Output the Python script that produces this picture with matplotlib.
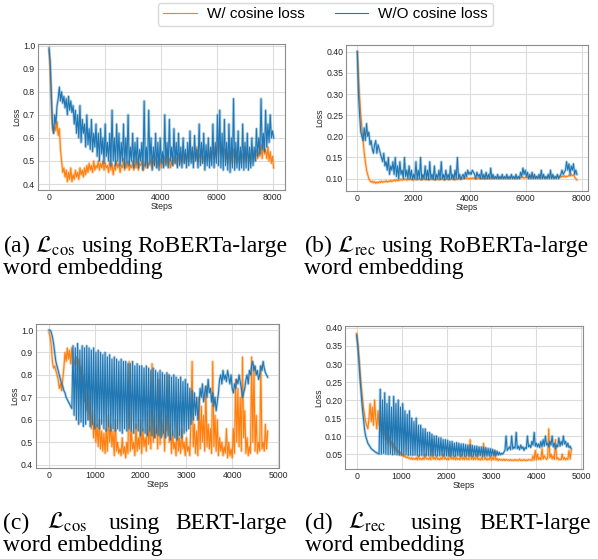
import matplotlib
matplotlib.use("Agg")
import matplotlib.pyplot as plt
import numpy as np

plt.rcParams['font.family'] = ['Liberation Sans', 'DejaVu Sans']
plt.rcParams['mathtext.fontset'] = 'stix'

ORANGE = '#ff7f0e'
BLUE = '#1f77b4'

# ---------------- data ----------------
# (a) L_cos, RoBERTa-large, one sample every 41 steps
a_step = 41
a_with = [0.98, 0.90, 0.76, 0.64,
          0.62, 0.66, 0.63, 0.67, 0.61, 0.64,
          0.55, 0.50, 0.45, 0.47,
          0.43, 0.46, 0.41, 0.45, 0.42, 0.47, 0.41, 0.44, 0.42, 0.46, 0.43, 0.45, 0.42, 0.47, 0.44, 0.46, 0.43,
          0.47, 0.44, 0.48, 0.45, 0.49, 0.46, 0.48, 0.45, 0.50, 0.46, 0.48, 0.47, 0.50, 0.46, 0.49, 0.47, 0.50,
          0.46, 0.49, 0.47,
          0.48, 0.45, 0.50, 0.46, 0.49, 0.44, 0.48, 0.46, 0.50, 0.47, 0.49, 0.45, 0.48, 0.47, 0.51, 0.46, 0.49,
          0.47, 0.50, 0.46, 0.48, 0.47, 0.50, 0.46, 0.49, 0.47, 0.51, 0.46, 0.49, 0.48, 0.50, 0.46, 0.49, 0.47,
          0.51, 0.47, 0.49, 0.48, 0.51, 0.47, 0.50, 0.48, 0.52, 0.47, 0.50, 0.48, 0.51, 0.47, 0.50, 0.48,
          0.52, 0.49, 0.53, 0.48, 0.51, 0.47, 0.50, 0.48, 0.52, 0.49, 0.51, 0.48, 0.53, 0.49, 0.52, 0.50, 0.54,
          0.49, 0.52, 0.50,
          0.53, 0.50, 0.55, 0.51, 0.53, 0.49, 0.54, 0.51, 0.56, 0.50, 0.53, 0.51, 0.55, 0.49, 0.52, 0.50, 0.54,
          0.51, 0.53, 0.50, 0.55, 0.52, 0.56, 0.51, 0.54, 0.52, 0.57, 0.53, 0.58, 0.54,
          0.56, 0.52, 0.55, 0.50, 0.53, 0.49, 0.54, 0.51, 0.52, 0.49, 0.55, 0.50, 0.53, 0.49, 0.52, 0.50, 0.54,
          0.49, 0.53, 0.51, 0.56, 0.50, 0.54, 0.51, 0.53, 0.49, 0.55, 0.51, 0.54, 0.50,
          0.55, 0.51, 0.54, 0.52, 0.57, 0.51, 0.58, 0.53, 0.55, 0.51, 0.56, 0.50, 0.54, 0.49, 0.52, 0.47]
a_without = [0.99, 0.93, 0.80, 0.66,
             0.62, 0.70, 0.66, 0.74,
             0.77, 0.82, 0.76, 0.80, 0.75, 0.78, 0.73, 0.77, 0.70, 0.78, 0.72, 0.76, 0.71,
             0.74, 0.66, 0.72, 0.62, 0.70, 0.60, 0.74, 0.58, 0.68, 0.62, 0.66, 0.56, 0.70, 0.57, 0.64, 0.55,
             0.68, 0.54, 0.62, 0.56,
             0.66, 0.52, 0.62, 0.50, 0.64, 0.53, 0.60, 0.49, 0.66, 0.52, 0.58, 0.50, 0.62, 0.48, 0.72, 0.50,
             0.60, 0.48, 0.66, 0.50,
             0.62, 0.48, 0.58, 0.50, 0.66, 0.47, 0.60, 0.49, 0.70, 0.48, 0.56, 0.50, 0.62, 0.47, 0.58, 0.49,
             0.60, 0.47, 0.55, 0.50, 0.58, 0.46, 0.76, 0.48, 0.56, 0.47, 0.72, 0.49, 0.60, 0.46, 0.56, 0.48,
             0.62, 0.47, 0.58, 0.46, 0.60, 0.49, 0.54, 0.47,
             0.70, 0.48, 0.58, 0.47, 0.68, 0.50, 0.56, 0.48, 0.64, 0.49, 0.58, 0.47, 0.62, 0.48, 0.56, 0.47,
             0.60, 0.49, 0.55, 0.47, 0.58, 0.48, 0.63, 0.49, 0.56, 0.47, 0.61, 0.50, 0.55, 0.47, 0.66, 0.48,
             0.58, 0.49, 0.62, 0.46, 0.57, 0.48, 0.60, 0.47,
             0.56, 0.48, 0.66, 0.47, 0.58, 0.49, 0.70, 0.48, 0.72, 0.47, 0.62, 0.46, 0.68, 0.48, 0.58, 0.46,
             0.66, 0.45, 0.60, 0.47, 0.77, 0.46, 0.58, 0.47, 0.63, 0.46, 0.56, 0.47, 0.66, 0.46, 0.58, 0.47,
             0.62, 0.46, 0.56, 0.47, 0.60, 0.48, 0.56, 0.50,
             0.64, 0.52, 0.60, 0.53, 0.77, 0.55, 0.62, 0.54, 0.72, 0.56, 0.66, 0.58, 0.70, 0.60, 0.63, 0.60]

# (b) L_rec, RoBERTa-large, one sample every 41 steps
b_step = 41
b_with = [0.40, 0.34, 0.29, 0.25, 0.22, 0.19, 0.16, 0.14, 0.12, 0.11, 0.10, 0.095,
          0.092, 0.094, 0.090, 0.093, 0.089, 0.092, 0.090, 0.093, 0.091, 0.094, 0.091, 0.093, 0.092, 0.095,
          0.092, 0.094, 0.093, 0.096, 0.093,
          0.095, 0.097, 0.094, 0.098, 0.095, 0.097, 0.096, 0.099, 0.096, 0.098, 0.097, 0.100, 0.096, 0.099,
          0.097, 0.100, 0.097, 0.099, 0.096, 0.100, 0.097, 0.099, 0.098, 0.101, 0.097, 0.099, 0.098, 0.100,
          0.097, 0.099,
          0.098, 0.100, 0.097, 0.099, 0.098, 0.101, 0.097, 0.100, 0.098, 0.099, 0.097, 0.100, 0.098, 0.101,
          0.097, 0.099, 0.098, 0.100, 0.097, 0.100, 0.098, 0.101, 0.098, 0.100, 0.097, 0.099, 0.098, 0.101,
          0.099, 0.102, 0.099, 0.101, 0.100, 0.103, 0.100, 0.102, 0.099, 0.101, 0.100, 0.102,
          0.100, 0.102, 0.099, 0.101, 0.100, 0.103, 0.099, 0.101, 0.100, 0.102, 0.099, 0.101, 0.100, 0.102,
          0.100, 0.103, 0.101, 0.102, 0.100, 0.103, 0.101, 0.102, 0.100, 0.102, 0.101, 0.103, 0.100, 0.102,
          0.101, 0.103, 0.100, 0.102, 0.101, 0.104, 0.101, 0.103, 0.100, 0.102, 0.101, 0.103,
          0.101, 0.103, 0.102, 0.104, 0.101, 0.103, 0.102, 0.104, 0.101, 0.103, 0.102, 0.104, 0.101, 0.103,
          0.102, 0.105, 0.102, 0.104, 0.101, 0.103, 0.102, 0.104, 0.101, 0.103, 0.102, 0.105, 0.102, 0.104,
          0.102, 0.105, 0.102, 0.104, 0.103, 0.106, 0.103, 0.105, 0.103, 0.106, 0.104, 0.107,
          0.104, 0.106, 0.105, 0.108, 0.106, 0.110, 0.107, 0.109, 0.104, 0.100, 0.097]
b_without = [0.40, 0.30, 0.25, 0.21, 0.20, 0.19,
             0.22, 0.19, 0.23, 0.20, 0.21, 0.18, 0.19, 0.17, 0.16, 0.18, 0.19, 0.16, 0.18, 0.17, 0.16,
             0.15, 0.14, 0.16, 0.13, 0.14, 0.12, 0.15, 0.11, 0.13, 0.12, 0.14, 0.11, 0.15, 0.105, 0.13, 0.10,
             0.14, 0.11, 0.12, 0.10, 0.15, 0.105, 0.12, 0.10, 0.13,
             0.10, 0.12, 0.098, 0.11, 0.10, 0.14, 0.098, 0.12, 0.10, 0.15, 0.097, 0.11, 0.10, 0.13, 0.098,
             0.12, 0.097, 0.14, 0.10, 0.11, 0.098, 0.13, 0.097, 0.11, 0.10, 0.12, 0.098, 0.14, 0.10, 0.11,
             0.097, 0.12, 0.10, 0.11, 0.098, 0.13, 0.10, 0.11, 0.098, 0.12, 0.10, 0.15, 0.10, 0.11, 0.098,
             0.105, 0.11, 0.10, 0.115, 0.105, 0.12, 0.11, 0.115, 0.11, 0.12, 0.115, 0.11, 0.10, 0.115, 0.105,
             0.11, 0.10, 0.12, 0.10, 0.11, 0.10, 0.115, 0.10, 0.11, 0.10, 0.125, 0.10, 0.11, 0.10, 0.105,
             0.10, 0.11, 0.10, 0.105, 0.10, 0.11, 0.10, 0.105, 0.10, 0.11,
             0.10, 0.105, 0.10, 0.11, 0.10, 0.105, 0.10, 0.11, 0.10, 0.105, 0.10, 0.115, 0.105, 0.125, 0.11,
             0.12, 0.105, 0.115, 0.10, 0.11, 0.10, 0.115, 0.10, 0.11, 0.10, 0.105, 0.10, 0.11, 0.10, 0.12,
             0.10, 0.11, 0.10, 0.105, 0.10, 0.11, 0.10, 0.12, 0.10, 0.11,
             0.10, 0.105, 0.10, 0.11, 0.10, 0.105, 0.11, 0.12, 0.11, 0.115, 0.12, 0.14, 0.12, 0.135, 0.11,
             0.13, 0.12, 0.135, 0.11, 0.12, 0.11]

# (c) L_cos, BERT-large, one sample every 25 steps
c_step = 25
c_with = [0.99, 0.97, 0.93, 0.86, 0.83, 0.84, 0.82, 0.80,
          0.78, 0.74, 0.76, 0.73, 0.78, 0.83,
          0.90, 0.86, 0.92, 0.87, 0.91, 0.85, 0.92, 0.88, 0.86, 0.84, 0.88, 0.82, 0.87, 0.76, 0.84, 0.72, 0.80,
          0.68, 0.76, 0.64, 0.72, 0.60, 0.70, 0.56, 0.64, 0.52, 0.62, 0.50, 0.58, 0.48, 0.60, 0.47, 0.55,
          0.46, 0.54, 0.45, 0.56,
          0.46, 0.62, 0.50, 0.58, 0.48, 0.55, 0.44, 0.60, 0.46, 0.50, 0.45, 0.47, 0.44, 0.52, 0.45, 0.48,
          0.43, 0.50, 0.45, 0.86, 0.46, 0.55, 0.47, 0.50, 0.44, 0.58, 0.46, 0.52, 0.47, 0.60,
          0.45, 0.56, 0.48, 0.52, 0.46, 0.64, 0.49, 0.57, 0.47, 0.85, 0.50, 0.62, 0.52, 0.58, 0.47, 0.78,
          0.49, 0.64, 0.53, 0.60, 0.46, 0.62, 0.55, 0.80, 0.50, 0.58, 0.45, 0.55, 0.47, 0.50, 0.44, 0.62,
          0.46, 0.52, 0.45, 0.56, 0.47, 0.50, 0.44, 0.52,
          0.46, 0.48, 0.44, 0.60, 0.86, 0.48, 0.58, 0.45, 0.55, 0.44, 0.70, 0.47, 0.66, 0.50, 0.62, 0.46,
          0.75, 0.48, 0.58, 0.47, 0.56, 0.45, 0.86, 0.48, 0.62, 0.46, 0.60, 0.44, 0.52, 0.46, 0.50, 0.44,
          0.48, 0.45, 0.56, 0.43, 0.50, 0.44, 0.47, 0.43,
          0.56, 0.45, 0.78, 0.50, 0.74, 0.48, 0.70, 0.46, 0.88, 0.52, 0.64, 0.45, 0.52, 0.44, 0.48, 0.45,
          0.88, 0.50, 0.84, 0.46, 0.62, 0.45, 0.50, 0.46, 0.84, 0.47, 0.50, 0.46, 0.58, 0.47, 0.55]
c_without = [1.00, 1.00, 0.99, 0.97, 0.94, 0.90, 0.86, 0.84, 0.82, 0.80, 0.78, 0.76, 0.75, 0.73, 0.72,
             0.70, 0.69, 0.68, 0.67, 0.66, 0.65,
             0.93, 0.62, 0.92, 0.60, 0.94, 0.58, 0.91, 0.59, 0.93, 0.57, 0.92, 0.58, 0.93, 0.60, 0.92, 0.57,
             0.91, 0.58, 0.92, 0.56, 0.90, 0.57, 0.91, 0.56, 0.90, 0.58, 0.89, 0.56, 0.90, 0.55, 0.88, 0.57,
             0.89, 0.55, 0.87, 0.56, 0.88, 0.55, 0.87, 0.56, 0.86, 0.55, 0.87, 0.54, 0.86, 0.56, 0.86, 0.55,
             0.85, 0.56,
             0.85, 0.55, 0.86, 0.54, 0.84, 0.56, 0.85, 0.55, 0.84, 0.53, 0.84, 0.55, 0.83, 0.54, 0.84, 0.53,
             0.83, 0.55, 0.82, 0.53, 0.83, 0.52, 0.82, 0.54, 0.81, 0.53, 0.82, 0.52, 0.81, 0.54, 0.80, 0.52,
             0.81, 0.53, 0.80, 0.51, 0.79, 0.53, 0.80, 0.52, 0.79, 0.51, 0.78, 0.53, 0.79, 0.52, 0.77, 0.54,
             0.78, 0.55, 0.76, 0.56, 0.74, 0.58, 0.73, 0.60, 0.72, 0.62, 0.70, 0.60,
             0.66, 0.74, 0.70, 0.76, 0.68, 0.72, 0.75, 0.70, 0.78, 0.72, 0.74, 0.68, 0.72, 0.66, 0.70, 0.64,
             0.68, 0.72, 0.78, 0.80, 0.76, 0.82, 0.78, 0.80, 0.77, 0.82, 0.79, 0.76, 0.80, 0.74, 0.72, 0.76,
             0.74, 0.78, 0.76, 0.80, 0.77, 0.74, 0.70, 0.72, 0.74, 0.78, 0.80, 0.76, 0.82, 0.80, 0.84, 0.86,
             0.82, 0.84, 0.80, 0.82, 0.78, 0.80, 0.84, 0.82, 0.86, 0.83, 0.81, 0.80, 0.79]

# (d) L_rec, BERT-large, one sample every 25 steps
d_step = 25
d_with = [0.385, 0.36, 0.32, 0.28, 0.24, 0.21, 0.18, 0.16, 0.14, 0.13, 0.12,
          0.15, 0.19, 0.14, 0.18, 0.13, 0.20, 0.15, 0.12, 0.17, 0.13, 0.15, 0.11, 0.14, 0.10, 0.12, 0.09,
          0.11, 0.08, 0.10, 0.075,
          0.085, 0.065, 0.08, 0.06, 0.07, 0.055, 0.06, 0.05, 0.055, 0.045, 0.05, 0.042, 0.045, 0.04, 0.042,
          0.038, 0.04, 0.036, 0.04, 0.035,
          0.038, 0.035, 0.04, 0.034, 0.045, 0.035, 0.038, 0.034, 0.04, 0.035, 0.05, 0.036, 0.038, 0.035,
          0.04, 0.034, 0.09, 0.036, 0.04, 0.035, 0.045, 0.035, 0.038, 0.034, 0.04, 0.035, 0.05, 0.036, 0.04,
          0.035, 0.038, 0.034, 0.06, 0.036, 0.04, 0.035, 0.045, 0.034, 0.04, 0.035, 0.038, 0.034, 0.05,
          0.035, 0.04, 0.034, 0.045, 0.035, 0.038, 0.034,
          0.09, 0.035, 0.045, 0.034, 0.04, 0.035, 0.05, 0.034, 0.038, 0.033, 0.04, 0.034, 0.08, 0.035, 0.04,
          0.033, 0.038, 0.034, 0.045, 0.033, 0.04, 0.034, 0.06, 0.033, 0.038, 0.032, 0.036, 0.033, 0.035,
          0.032, 0.036, 0.032, 0.035, 0.033, 0.034, 0.032, 0.035, 0.032, 0.034, 0.032, 0.035, 0.032, 0.034,
          0.032, 0.036, 0.032, 0.034, 0.032, 0.035, 0.032,
          0.034, 0.032, 0.035, 0.033, 0.034, 0.032, 0.045, 0.033, 0.06, 0.034, 0.05, 0.035, 0.04, 0.034,
          0.065, 0.036, 0.045, 0.04, 0.035, 0.038, 0.12, 0.04, 0.05, 0.036, 0.045, 0.035, 0.09, 0.036, 0.04,
          0.034, 0.036, 0.034, 0.05, 0.035, 0.04, 0.034, 0.038, 0.035, 0.06, 0.036, 0.06]
d_without = [0.38, 0.35, 0.31, 0.26, 0.22, 0.18, 0.15, 0.12, 0.10, 0.09, 0.08, 0.075, 0.07, 0.065, 0.062,
             0.06, 0.057, 0.055, 0.053, 0.052, 0.05,
             0.23, 0.05, 0.20, 0.052, 0.22, 0.05, 0.19, 0.049, 0.21, 0.05, 0.18, 0.048, 0.21, 0.049, 0.19,
             0.048, 0.20, 0.047, 0.18, 0.048, 0.19, 0.047, 0.17, 0.048, 0.16, 0.046, 0.17, 0.047, 0.15, 0.046,
             0.14, 0.047, 0.15, 0.046, 0.13, 0.045, 0.13, 0.046, 0.12, 0.045, 0.12, 0.046, 0.11, 0.045, 0.11,
             0.046, 0.105, 0.045, 0.10, 0.046, 0.10, 0.045, 0.095, 0.045, 0.095, 0.046, 0.09, 0.045, 0.09,
             0.045,
             0.088, 0.045, 0.085, 0.044, 0.085, 0.045, 0.08, 0.044, 0.082, 0.045, 0.08, 0.044, 0.078, 0.045,
             0.078, 0.044, 0.076, 0.045, 0.075, 0.044, 0.075, 0.045, 0.074, 0.044, 0.072, 0.045, 0.072, 0.044,
             0.07, 0.045, 0.07, 0.044, 0.068, 0.045, 0.068, 0.044, 0.066, 0.045, 0.065, 0.045, 0.063, 0.046,
             0.06, 0.046, 0.058, 0.047, 0.055, 0.048, 0.052, 0.05,
             0.055, 0.06, 0.10, 0.06, 0.065, 0.07, 0.062, 0.10, 0.064, 0.07, 0.066, 0.11, 0.065, 0.072, 0.062,
             0.075, 0.065, 0.07, 0.06, 0.068, 0.065, 0.10, 0.07, 0.075, 0.068, 0.085, 0.075, 0.11, 0.072, 0.08,
             0.07, 0.078, 0.068, 0.085, 0.07, 0.09, 0.072, 0.10, 0.075, 0.08, 0.07, 0.085, 0.075, 0.10, 0.07,
             0.08, 0.065, 0.075, 0.07, 0.095, 0.072, 0.085, 0.075, 0.10, 0.078, 0.085, 0.07, 0.08, 0.068,
             0.072, 0.065]

legend_labels = ['W/ cosine loss', 'W/O cosine loss']

# ---------------- figure ----------------
W, H = 598, 559
fig = plt.figure(figsize=(W / 100, H / 100), dpi=100)


def px_axes(l, t, r, b):
    return fig.add_axes([l / W, 1 - b / H, (r - l) / W, (b - t) / H])


panels = [
    dict(box=(38, 44, 285, 190), step=a_step, w=a_with, wo=a_without,
         xlim=(-394, 8442), ylim=(0.374, 1.007), xt=[0, 2000, 4000, 6000, 8000],
         yt=[0.4, 0.5, 0.6, 0.7, 0.8, 0.9, 1.0], yfmt='{:.1f}'),
    dict(box=(346, 45, 588, 191), step=b_step, w=b_with, wo=b_without,
         xlim=(-404, 8225), ylim=(0.0708, 0.4158), xt=[0, 2000, 4000, 6000, 8000],
         yt=[0.10, 0.15, 0.20, 0.25, 0.30, 0.35, 0.40], yfmt='{:.2f}'),
    dict(box=(36, 324, 279, 468), step=c_step, w=c_with, wo=c_without,
         xlim=(-283, 5022), ylim=(0.385, 1.027), xt=[0, 1000, 2000, 3000, 4000, 5000],
         yt=[0.4, 0.5, 0.6, 0.7, 0.8, 0.9, 1.0], yfmt='{:.1f}'),
    dict(box=(345, 326, 583, 469), step=d_step, w=d_with, wo=d_without,
         xlim=(-259, 5037), ylim=(0.0085, 0.4055), xt=[0, 1000, 2000, 3000, 4000, 5000],
         yt=[0.05, 0.10, 0.15, 0.20, 0.25, 0.30, 0.35, 0.40], yfmt='{:.2f}'),
]

fs = 6.3
handles = None
for p in panels:
    ax = px_axes(*p['box'])
    xw = np.arange(len(p['w'])) * p['step']
    xwo = np.arange(len(p['wo'])) * p['step']
    ax.plot(xw, p['w'], color=ORANGE, lw=2.0, alpha=0.3, solid_joinstyle='round')
    h1, = ax.plot(xw, p['w'], color=ORANGE, lw=0.8)
    ax.plot(xwo, p['wo'], color=BLUE, lw=2.0, alpha=0.3, solid_joinstyle='round')
    h2, = ax.plot(xwo, p['wo'], color=BLUE, lw=0.8)
    handles = [h1, h2]
    ax.set_xlim(*p['xlim'])
    ax.set_ylim(*p['ylim'])
    ax.set_xticks(p['xt'])
    ax.set_yticks(p['yt'])
    ax.set_yticklabels([p['yfmt'].format(v) for v in p['yt']])
    ax.grid(True, color='#dcdcdc', lw=0.8)
    ax.set_axisbelow(True)
    for s in ax.spines.values():
        s.set_color('#8c8c8c')
        s.set_linewidth(0.8)
    ax.tick_params(length=0, labelsize=fs, colors='#262626', pad=2)
    ax.set_xlabel('Steps', fontsize=fs, color='#262626', labelpad=0.5)
    ax.set_ylabel('Loss', fontsize=fs, color='#262626', labelpad=1.5)

fig.legend(handles, legend_labels, loc='center', bbox_to_anchor=(325.5 / W, 1 - 14.5 / H),
           ncol=2, fontsize=11, frameon=True, edgecolor='#d0d0d0', fancybox=True,
           handlelength=2.2, handletextpad=0.65, columnspacing=2.0, borderpad=0.3)

# ---------------- captions ----------------
cap = dict(family=['Liberation Serif', 'DejaVu Serif'], fontsize=17, color='black', va='baseline')


def fx(x):
    return x / W


def fy(y):
    return 1 - y / H


# first lines are justified to the column width, as in the paper
fig.text(fx(3), fy(252), r'(a) $\mathcal{L}_{\mathrm{cos}}$', ha='left', **cap)
fig.text(fx(107), fy(252), 'using', ha='center', **cap)
fig.text(fx(287), fy(252), 'RoBERTa-large', ha='right', **cap)
fig.text(fx(3), fy(274), 'word embedding', ha='left', **cap)

fig.text(fx(304), fy(252), r'(b) $\mathcal{L}_{\mathrm{rec}}$', ha='left', **cap)
fig.text(fx(407), fy(252), 'using', ha='center', **cap)
fig.text(fx(588), fy(252), 'RoBERTa-large', ha='right', **cap)
fig.text(fx(304), fy(274), 'word embedding', ha='left', **cap)

fig.text(fx(3), fy(529), '(c)', ha='left', **cap)
fig.text(fx(47), fy(529), r'$\mathcal{L}_{\mathrm{cos}}$', ha='left', **cap)
fig.text(fx(134), fy(529), 'using', ha='center', **cap)
fig.text(fx(287), fy(529), 'BERT-large', ha='right', **cap)
fig.text(fx(3), fy(551), 'word embedding', ha='left', **cap)

fig.text(fx(305), fy(529), '(d)', ha='left', **cap)
fig.text(fx(348), fy(529), r'$\mathcal{L}_{\mathrm{rec}}$', ha='left', **cap)
fig.text(fx(436), fy(529), 'using', ha='center', **cap)
fig.text(fx(591), fy(529), 'BERT-large', ha='right', **cap)
fig.text(fx(305), fy(551), 'word embedding', ha='left', **cap)

fig.savefig('out.png', dpi=100)
